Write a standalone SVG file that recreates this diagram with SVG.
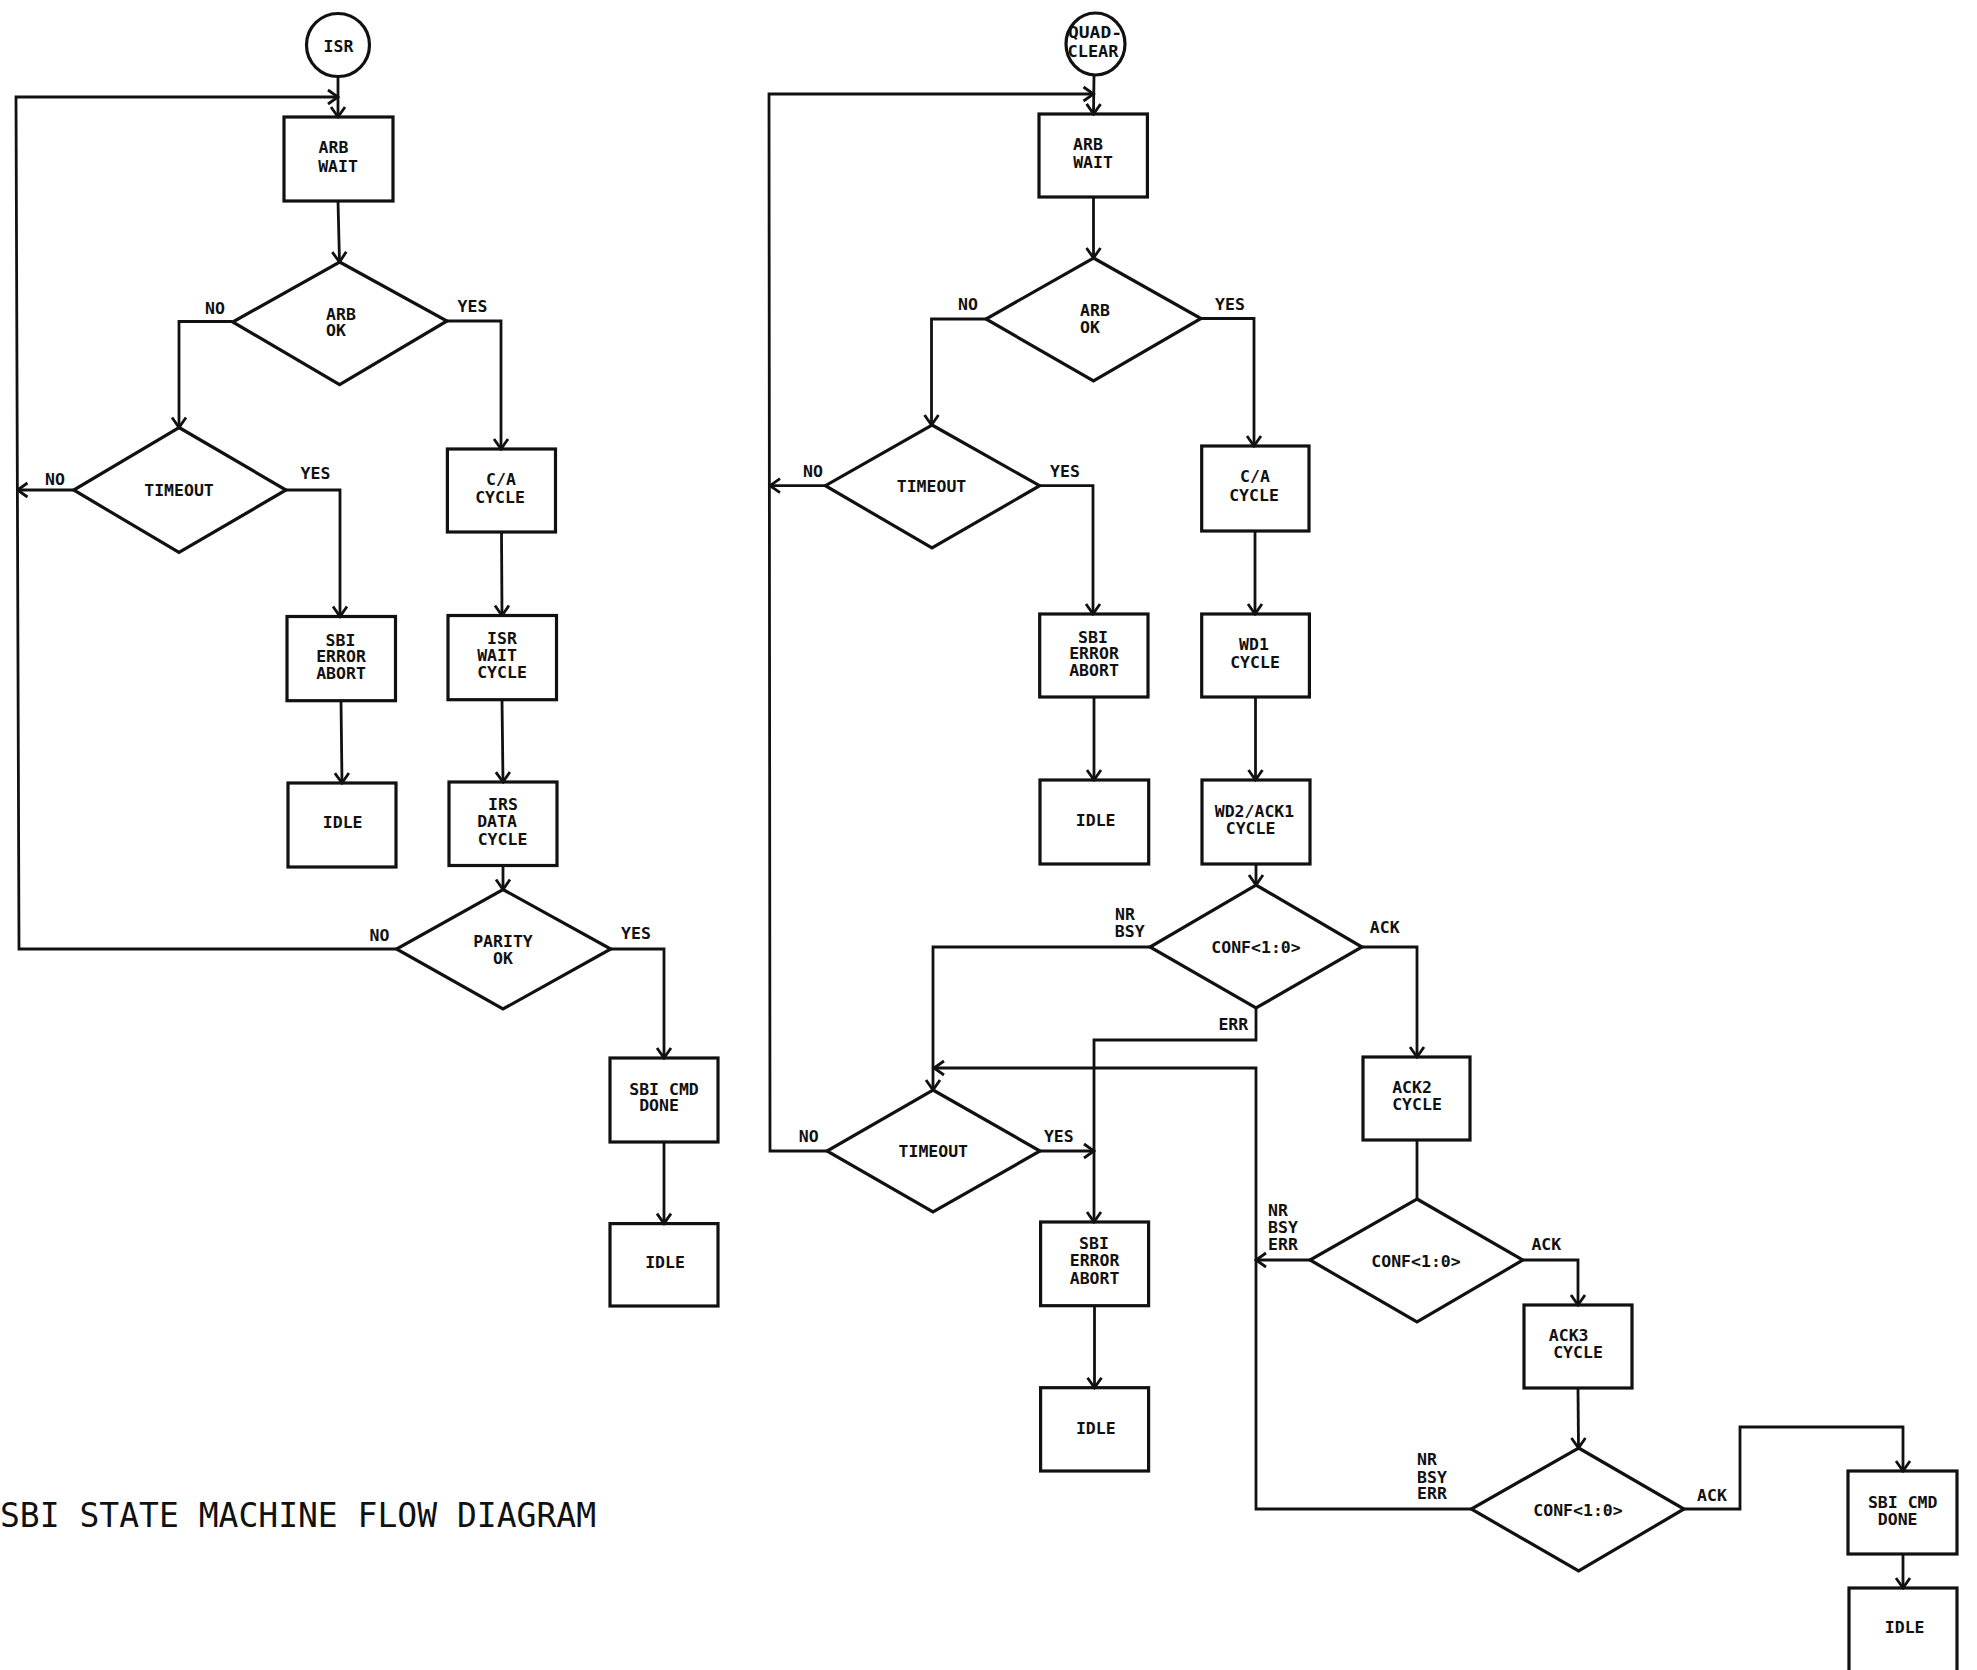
<svg xmlns="http://www.w3.org/2000/svg" width="1977" height="1670" viewBox="0 0 1977 1670">
<defs>
<style>
.n rect,.n polygon,.n ellipse{fill:none;stroke:#111;stroke-width:3.2}
.t{font-family:"DejaVu Sans Mono","Liberation Mono",monospace;font-weight:bold;font-size:16.5px;fill:#111;text-anchor:middle}
.c path{fill:none;stroke:#111;stroke-width:2.8;stroke-linejoin:miter}
.c .a{marker-end:url(#ah)}
.title{font-family:"DejaVu Sans Mono","Liberation Mono",monospace;font-size:33px;fill:#111}
</style>
<marker id="ah" viewBox="-13 -9 15 18" refX="0" refY="0" markerWidth="15" markerHeight="18" orient="auto" markerUnits="userSpaceOnUse">
<path d="M-10,-7 L0,0 L-10,7" fill="none" stroke="#111" stroke-width="2.8"/>
</marker>
</defs>
<rect width="1977" height="1670" fill="#fff"/>

<g id="connectors" class="c">
<!-- left chart -->
<path class="a" d="M338,76.5 L338,117"/>
<path class="a" d="M396.5,949 L19,949 L16,97 L338,97"/>
<path class="a" d="M338,201 L339.5,262"/>
<path class="a" d="M232.7,321.5 L179,321.5 L179,427.5"/>
<path class="a" d="M447,321 L501,321 L501,449"/>
<path class="a" d="M73.7,490 L17.5,490"/>
<path class="a" d="M286,490 L340,490 L340,616.5"/>
<path class="a" d="M501.5,532 L502,615.5"/>
<path class="a" d="M341,700.7 L342,783"/>
<path class="a" d="M502,699.7 L503,782"/>
<path class="a" d="M503,865.5 L503,889.5"/>
<path class="a" d="M610.8,949 L664,949 L664,1058"/>
<path class="a" d="M664,1142 L664,1223.6"/>
<!-- right chart -->
<path class="a" d="M1094,75 L1093.5,114"/>
<path class="a" d="M827,1151 L770,1151 L769,94 L1093.5,94"/>
<path class="a" d="M1093.5,197 L1093.5,258"/>
<path class="a" d="M986,319 L931.5,319 L931.5,425"/>
<path class="a" d="M1201,318.5 L1254,318.5 L1254,446"/>
<path class="a" d="M825.4,485.7 L770,485.7"/>
<path class="a" d="M1039.7,485.7 L1093,485.7 L1093,614"/>
<path class="a" d="M1255,531 L1255,614"/>
<path class="a" d="M1094,697 L1094,780"/>
<path class="a" d="M1255.5,697 L1255.5,780"/>
<path class="a" d="M1256,864 L1256,885"/>
<path class="a" d="M1150,947 L933,947 L933,1090"/>
<path class="a" d="M1256,1008 L1256,1040 L1094,1040 L1094,1222"/>
<path class="a" d="M1362,947 L1417,947 L1417,1057"/>
<path class="a" d="M1040,1151 L1094,1151"/>
<path d="M1417,1140 L1417,1199"/>
<path class="a" d="M1310,1260 L1256,1260"/>
<path class="a" d="M1471.3,1509 L1256,1509 L1256,1068 L934,1068"/>
<path class="a" d="M1523,1260 L1578,1260 L1578,1305"/>
<path class="a" d="M1578,1388 L1578.5,1448"/>
<path class="a" d="M1684,1509 L1740,1509 L1740,1427 L1903,1427 L1903,1471"/>
<path class="a" d="M1903,1554 L1903,1588"/>
<path class="a" d="M1094.5,1305.7 L1094.5,1387.7"/>
</g>

<!-- left chart nodes -->
<g id="isr" class="n"><ellipse cx="338" cy="45" rx="31.5" ry="31.5"/><text class="t" x="338.5" y="52">ISR</text></g>
<g id="arb-wait-1" class="n"><rect x="284" y="117" width="109" height="84"/><text class="t" x="333.5" y="153">ARB</text><text class="t" x="338" y="172">WAIT</text></g>
<g id="arb-ok-1" class="n"><polygon points="339.6,262 447,321 339.6,384.6 232.7,322"/><text class="t" x="341" y="320">ARB</text><text class="t" x="336" y="336">OK</text></g>
<g id="timeout-1" class="n"><polygon points="179,427.5 286,490 179,552.5 73.7,490"/><text class="t" x="179" y="496">TIMEOUT</text></g>
<g id="ca-cycle-1" class="n"><rect x="447.4" y="449" width="108.1" height="83"/><text class="t" x="501" y="485">C/A</text><text class="t" x="500" y="502.5">CYCLE</text></g>
<g id="sbi-error-abort-1" class="n"><rect x="287" y="616.5" width="108.5" height="84.2"/><text class="t" x="340.5" y="645.6">SBI</text><text class="t" x="341" y="662.4">ERROR</text><text class="t" x="341" y="678.8">ABORT</text></g>
<g id="isr-wait-cycle" class="n"><rect x="448" y="615.5" width="108.5" height="84.2"/><text class="t" x="502" y="644">ISR</text><text class="t" x="497" y="661.4">WAIT</text><text class="t" x="502" y="677.8">CYCLE</text></g>
<g id="idle-1" class="n"><rect x="288" y="783" width="108" height="84"/><text class="t" x="342.7" y="828">IDLE</text></g>
<g id="irs-data-cycle" class="n"><rect x="449" y="782" width="108" height="83.5"/><text class="t" x="503" y="810">IRS</text><text class="t" x="497" y="827">DATA</text><text class="t" x="502.5" y="845">CYCLE</text></g>
<g id="parity-ok" class="n"><polygon points="503,889.5 610.8,949 503,1009 396.5,949"/><text class="t" x="503" y="946.6">PARITY</text><text class="t" x="503" y="963.5">OK</text></g>
<g id="sbi-cmd-done-1" class="n"><rect x="610" y="1058" width="108" height="84"/><text class="t" x="664" y="1094.6">SBI CMD</text><text class="t" x="659" y="1111">DONE</text></g>
<g id="idle-2" class="n"><rect x="610" y="1223.6" width="108" height="82.4"/><text class="t" x="665" y="1268">IDLE</text></g>

<!-- left labels -->
<g id="labels-left">
<text class="t" x="215" y="314">NO</text>
<text class="t" x="472.5" y="312">YES</text>
<text class="t" x="55" y="485">NO</text>
<text class="t" x="315.5" y="479">YES</text>
<text class="t" x="379.5" y="940.5">NO</text>
<text class="t" x="636" y="939">YES</text>
</g>

<!-- right chart nodes -->
<g id="quad-clear" class="n"><ellipse cx="1095.5" cy="44" rx="29.5" ry="31"/><text class="t" x="1095" y="38.3" textLength="54" lengthAdjust="spacingAndGlyphs">QUAD-</text><text class="t" x="1093" y="57.3" textLength="51" lengthAdjust="spacingAndGlyphs">CLEAR</text></g>
<g id="arb-wait-2" class="n"><rect x="1039" y="114" width="108.4" height="83"/><text class="t" x="1088" y="150">ARB</text><text class="t" x="1093" y="168">WAIT</text></g>
<g id="arb-ok-2" class="n"><polygon points="1093.5,258 1201,318.5 1093.5,381 986,319"/><text class="t" x="1095" y="316">ARB</text><text class="t" x="1090" y="333">OK</text></g>
<g id="timeout-2" class="n"><polygon points="932,425 1039.7,485.7 932,548 825.4,485.7"/><text class="t" x="931.5" y="492">TIMEOUT</text></g>
<g id="ca-cycle-2" class="n"><rect x="1201.7" y="446" width="107.3" height="85"/><text class="t" x="1255" y="482">C/A</text><text class="t" x="1254" y="500.7">CYCLE</text></g>
<g id="sbi-error-abort-2" class="n"><rect x="1039.7" y="614" width="108.3" height="83"/><text class="t" x="1093" y="642.5">SBI</text><text class="t" x="1094" y="659">ERROR</text><text class="t" x="1094" y="675.7">ABORT</text></g>
<g id="wd1-cycle" class="n"><rect x="1201.7" y="614" width="107.7" height="83"/><text class="t" x="1254" y="650">WD1</text><text class="t" x="1255" y="667.5">CYCLE</text></g>
<g id="idle-3" class="n"><rect x="1040" y="780" width="108.7" height="84"/><text class="t" x="1095.7" y="825.7">IDLE</text></g>
<g id="wd2-ack1-cycle" class="n"><rect x="1202" y="780" width="108" height="84"/><text class="t" x="1254.5" y="816.8">WD2/ACK1</text><text class="t" x="1250.6" y="834">CYCLE</text></g>
<g id="conf-1" class="n"><polygon points="1256,885 1362,947 1256,1008 1150,947"/><text class="t" x="1256" y="953.3">CONF&lt;1:0&gt;</text></g>
<g id="timeout-3" class="n"><polygon points="933,1090 1040,1151 933,1212 827,1151"/><text class="t" x="933.3" y="1156.7">TIMEOUT</text></g>
<g id="ack2-cycle" class="n"><rect x="1363" y="1057" width="107" height="83"/><text class="t" x="1412" y="1093">ACK2</text><text class="t" x="1417" y="1110">CYCLE</text></g>
<g id="sbi-error-abort-3" class="n"><rect x="1040.6" y="1222" width="108" height="83.7"/><text class="t" x="1094" y="1249">SBI</text><text class="t" x="1094.6" y="1266">ERROR</text><text class="t" x="1094.6" y="1284">ABORT</text></g>
<g id="conf-2" class="n"><polygon points="1417,1199 1523,1260 1417,1322 1310,1260"/><text class="t" x="1416" y="1266.7">CONF&lt;1:0&gt;</text></g>
<g id="ack3-cycle" class="n"><rect x="1524" y="1305" width="108" height="83"/><text class="t" x="1568.7" y="1341">ACK3</text><text class="t" x="1578" y="1358.3">CYCLE</text></g>
<g id="idle-4" class="n"><rect x="1040.6" y="1387.7" width="108" height="83.3"/><text class="t" x="1095.8" y="1433.6">IDLE</text></g>
<g id="conf-3" class="n"><polygon points="1578.6,1448 1684,1509 1578.6,1571 1471.3,1509"/><text class="t" x="1578" y="1516">CONF&lt;1:0&gt;</text></g>
<g id="sbi-cmd-done-2" class="n"><rect x="1848" y="1471" width="109" height="83"/><text class="t" x="1902.7" y="1508.3">SBI CMD</text><text class="t" x="1897.7" y="1525">DONE</text></g>
<g id="idle-5" class="n"><rect x="1849" y="1588" width="108" height="95"/><text class="t" x="1904.7" y="1633.3">IDLE</text></g>

<!-- right labels -->
<g id="labels-right">
<text class="t" x="968" y="309.6">NO</text>
<text class="t" x="1230" y="309.6">YES</text>
<text class="t" x="813" y="476.8">NO</text>
<text class="t" x="1065" y="476.8">YES</text>
<text class="t" x="1125" y="920">NR</text>
<text class="t" x="1129.7" y="937.3">BSY</text>
<text class="t" x="1384.7" y="933">ACK</text>
<text class="t" x="1233.3" y="1030">ERR</text>
<text class="t" x="808.7" y="1141.7">NO</text>
<text class="t" x="1058.8" y="1141.7">YES</text>
<text class="t" x="1278" y="1216">NR</text>
<text class="t" x="1283" y="1233.3">BSY</text>
<text class="t" x="1283" y="1250">ERR</text>
<text class="t" x="1546.3" y="1250">ACK</text>
<text class="t" x="1427" y="1465">NR</text>
<text class="t" x="1432" y="1482.7">BSY</text>
<text class="t" x="1432" y="1499.3">ERR</text>
<text class="t" x="1712" y="1500.6">ACK</text>
</g>

<text id="title" class="title" x="0" y="1527" textLength="596" lengthAdjust="spacing">SBI STATE MACHINE FLOW DIAGRAM</text>
</svg>
